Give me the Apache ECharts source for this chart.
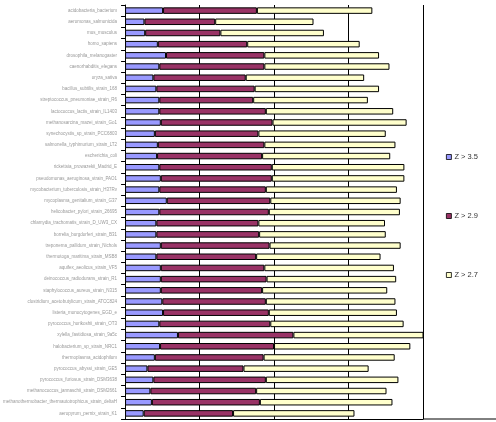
<!DOCTYPE html>
<html>
<head>
<meta charset="utf-8">
<script src="https://cdn.jsdelivr.net/npm/echarts@6/dist/echarts.min.js"></script>
<style>html,body{margin:0;padding:0;background:#fff}#c{width:496px;height:422px}</style>
</head>
<body>
<div id="c"></div>
<script>
// categories listed top to bottom
var categories = [
  "acidobacteria_bacterium",
  "aeromonas_salmonicida",
  "mus_musculus",
  "homo_sapiens",
  "drosophila_melanogaster",
  "caenorhabditis_elegans",
  "oryza_sativa",
  "bacillus_subtilis_strain_168",
  "streptococcus_pneumoniae_strain_R6",
  "lactococcus_lactis_strain_IL1403",
  "methanosarcina_mazei_strain_Go1",
  "synechocystis_sp_strain_PCC6803",
  "salmonella_typhimurium_strain_LT2",
  "escherichia_coli",
  "rickettsia_prowazekii_Madrid_E",
  "pseudomonas_aeruginosa_strain_PAO1",
  "mycobacterium_tuberculosis_strain_H37Rv",
  "mycoplasma_genitalium_strain_G37",
  "helicobacter_pylori_strain_26695",
  "chlamydia_trachomatis_strain_D_UW3_CX",
  "borrelia_burgdorferi_strain_B31",
  "treponema_pallidum_strain_Nichols",
  "thermotoga_maritima_strain_MSB8",
  "aquifex_aeolicus_strain_VF5",
  "deinococcus_radiodurans_strain_R1",
  "staphylococcus_aureus_strain_N315",
  "clostridium_acetobutylicum_strain_ATCC824",
  "listeria_monocytogenes_EGD_e",
  "pyrococcus_horikoshii_strain_OT3",
  "xylella_fastidiosa_strain_9a5c",
  "halobacterium_sp_strain_NRC1",
  "thermoplasma_acidophilum",
  "pyrococcus_abyssi_strain_GE5",
  "pyrococcus_furiosus_strain_DSM3638",
  "methanococcus_jannaschii_strain_DSM2661",
  "methanothermobacter_thermautotrophicus_strain_deltaH",
  "aeropyrum_pernix_strain_K1"
];
var z35 = [51,26,27,44,55,46,38,42,46,46,48,40,44,43,46,48,46,56,46,42,42,48,42,48,48,48,50,51,46,71,47,40,30,38,34,36,25];
var z29 = [126,95,101,120,132,141,124,132,126,143,150,139,143,141,151,149,143,139,147,137,138,146,134,139,142,136,139,142,149,155,153,146,129,151,142,145,120];
var z27 = [155,132,139,151,154,168,159,167,154,171,180,171,176,172,178,178,176,175,176,170,170,176,167,174,174,168,174,172,179,179,183,176,168,178,175,178,163];
var seriesNames = ["Z > 3.5", "Z > 2.9", "Z > 2.7"];
var colors = ["#9999ff", "#993366", "#ffffcc"];
var xMin = 0, xMax = 400, xStep = 100;

var chart = echarts.init(document.getElementById('c'), null, {renderer: 'canvas'});
var dataSets = [z35, z29, z27];
var series = dataSets.map(function (d, i) {
  return {
    name: seriesNames[i],
    type: 'bar',
    stack: 'total',
    data: d,
    barWidth: 6.5,
    itemStyle: {color: colors[i], borderColor: '#000', borderWidth: 1},
    emphasis: {disabled: true},
    animation: false
  };
});
chart.setOption({
  animation: false,
  color: colors,
  grid: {left: 120, right: 73, top: 5, bottom: 3, containLabel: false},
  xAxis: {
    type: 'value', min: xMin, max: xMax, interval: xStep,
    axisLine: {show: true, lineStyle: {color: '#000', width: 1}},
    axisTick: {show: false},
    axisLabel: {show: false},
    splitLine: {show: true, lineStyle: {color: '#000', width: 1}}
  },
  yAxis: {
    type: 'category', inverse: true, data: categories,
    axisLine: {show: true, lineStyle: {color: '#000', width: 1}},
    axisTick: {show: true, length: 4, lineStyle: {color: '#000'}},
    axisLabel: {fontSize: 4.5, color: '#999', fontFamily: 'Liberation Sans', margin: 8, interval: 0},
    splitLine: {show: false}
  },
  legend: {
    orient: 'vertical', left: 441, top: 148,
    itemWidth: 5, itemHeight: 5, itemGap: 51,
    icon: 'rect',
    textStyle: {fontSize: 7.5, color: '#333', fontFamily: 'Liberation Sans', padding: [0,0,0,-2]},
    itemStyle: {borderColor: '#000', borderWidth: 0.8},
    data: seriesNames
  },
  graphic: [{
    type: 'line', shape: {x1: 423, y1: 419, x2: 496, y2: 419},
    style: {stroke: '#000', lineWidth: 1}
  }],
  series: series
});
</script>
</body>
</html>
